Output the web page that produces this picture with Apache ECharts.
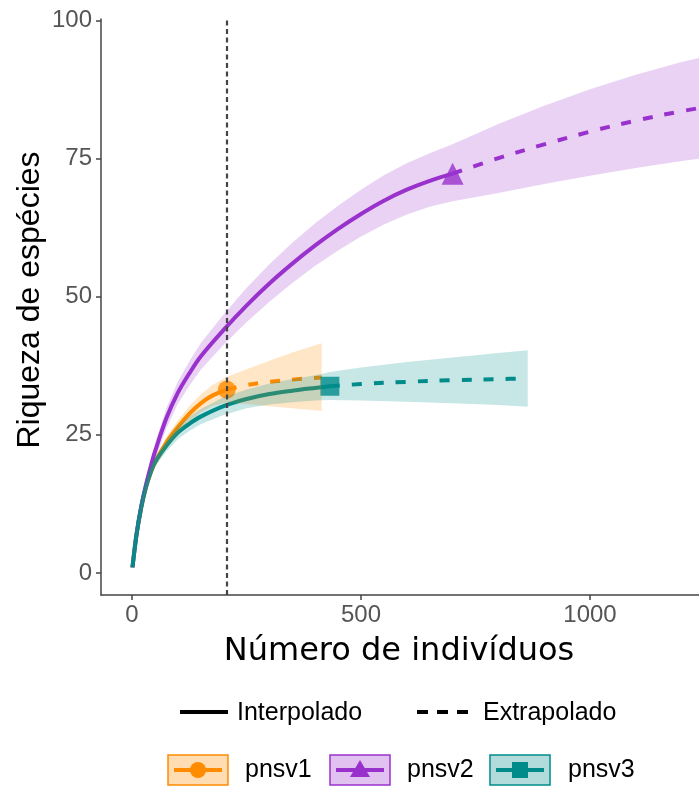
<!DOCTYPE html>
<html>
<head>
<meta charset="utf-8">
<script src="https://cdn.jsdelivr.net/npm/echarts@6/dist/echarts.min.js"></script>
<style>
html,body{margin:0;padding:0;background:#fff;}
#chart{width:699px;height:789px;}
</style>
</head>
<body>
<div id="chart"></div>
<script>
// ---------- data ----------
const seriesNames = ['pnsv1', 'pnsv2', 'pnsv3'];
const colors = ['#FF8C00', '#9932CC', '#008B8B'];
const xTicks = [0, 500, 1000];
const yTicks = [0, 25, 50, 75, 100];
const refSize = 207;

// pnsv1 (reference point index 11)
const n1  = [1, 10, 20, 30, 40, 50, 75, 100, 125, 150, 175, 207, 250, 300, 350, 414];
const s1  = [1, 7.0, 11.8, 15.4, 18.0, 20.0, 23.6, 26.4, 28.8, 30.7, 32.1, 33.2, 34.0, 34.6, 35.0, 35.4];
const lo1 = [1, 6.6, 11.2, 14.7, 17.2, 19.2, 22.6, 25.2, 27.4, 29.1, 30.2, 30.9, 30.6, 30.2, 29.8, 29.3];
const hi1 = [1, 7.4, 12.4, 16.1, 18.8, 20.8, 24.6, 27.6, 30.2, 32.3, 34.0, 35.5, 36.9, 38.4, 39.9, 41.6];
const ref1 = 11;

// pnsv2 (reference point index 20)
const n2  = [1, 10, 20, 30, 40, 50, 75, 100, 125, 150, 200, 250, 300, 350, 400, 450, 500, 550, 600, 650, 700, 800, 900, 1000, 1100, 1200, 1300, 1400];
const s2  = [1, 7.1, 12.0, 15.8, 19.0, 21.9, 28.0, 32.6, 36.1, 39.2, 44.0, 48.4, 52.4, 56.0, 59.3, 62.3, 65.0, 67.4, 69.4, 71.0, 72.3, 75.1, 77.6, 79.9, 81.9, 83.6, 85.0, 86.2];
const lo2 = [1, 6.6, 11.2, 14.7, 17.7, 20.4, 26.2, 30.6, 33.9, 36.8, 41.3, 45.4, 49.1, 52.5, 55.6, 58.4, 60.9, 63.1, 64.9, 66.3, 67.3, 68.8, 70.4, 71.9, 73.3, 74.6, 75.6, 76.4];
const hi2 = [1, 7.6, 12.8, 16.9, 20.3, 23.4, 29.8, 34.6, 38.3, 41.6, 46.8, 51.6, 55.9, 59.8, 63.3, 66.5, 69.4, 72.0, 74.2, 76.0, 77.6, 81.3, 84.6, 87.6, 90.2, 92.5, 94.4, 96.1];
const ref2 = 20;

// pnsv3 (reference point index 15)
const n3  = [1, 10, 20, 30, 40, 50, 75, 100, 125, 150, 200, 250, 300, 350, 400, 432, 500, 600, 700, 800, 864];
const s3  = [1, 7.0, 11.8, 15.4, 18.0, 20.0, 23.0, 25.4, 27.0, 28.3, 30.2, 31.5, 32.4, 33.0, 33.5, 33.8, 34.2, 34.6, 34.9, 35.1, 35.2];
const lo3 = [1, 6.6, 11.2, 14.7, 17.2, 19.2, 22.0, 24.2, 25.7, 26.9, 28.6, 29.8, 30.5, 30.9, 31.2, 31.3, 31.2, 31.0, 30.7, 30.4, 30.1];
const hi3 = [1, 7.4, 12.4, 16.1, 18.8, 20.8, 24.0, 26.6, 28.3, 29.7, 31.8, 33.2, 34.3, 35.1, 35.8, 36.4, 37.2, 38.2, 39.0, 39.8, 40.3];
const ref3 = 15;

const xMin = -67.7, xMax = 1238;
const yMin = -4, yMax = 100.3;

// ---------- build ----------
const groups = [
  {n: n1, s: s1, lo: lo1, hi: hi1, ref: ref1, symbol: 'circle', size: 18},
  {n: n2, s: s2, lo: lo2, hi: hi2, ref: ref2, symbol: 'triangle', size: 22},
  {n: n3, s: s3, lo: lo3, hi: hi3, ref: ref3, symbol: 'rect', size: 19}
];

function bandColor(c, a) {
  const r = parseInt(c.slice(1,3),16), g = parseInt(c.slice(3,5),16), b = parseInt(c.slice(5,7),16);
  return 'rgba(' + r + ',' + g + ',' + b + ',' + a + ')';
}

const series = [];
groups.forEach(function (gp, k) {
  const pts = gp.n.map(function (v, i) { return [v, gp.s[i]]; });
  series.push({
    type: 'line', name: seriesNames[k] + ' interp', z: 2, silent: true,
    data: pts.slice(0, gp.ref + 1), showSymbol: false, smooth: 0.35,
    lineStyle: {color: colors[k], width: 4}
  });
  series.push({
    type: 'line', name: seriesNames[k] + ' extrap', z: 2, silent: true,
    data: pts.slice(gp.ref), showSymbol: false, smooth: 0.35,
    lineStyle: {color: colors[k], width: 4, type: [10, 12]}
  });
  series.push({
    type: 'scatter', name: seriesNames[k] + ' obs', z: 3, silent: true,
    data: [pts[gp.ref]], symbol: gp.symbol, symbolSize: gp.size,
    itemStyle: {color: colors[k]}
  });
});
groups.forEach(function (gp, k) {
  const bandData = gp.n.map(function (v, i) { return [v, gp.lo[i], gp.hi[i]]; });
  series.push({
    type: 'custom',
    name: seriesNames[k] + ' band',
    clip: true,
    z: 4,
    silent: true,
    data: bandData,
    encode: {x: 0, y: [1, 2]},
    renderItem: function (params, api) {
      if (params.dataIndex !== 0) return null;
      const pts = [];
      for (let i = 0; i < gp.n.length; i++) pts.push(api.coord([gp.n[i], gp.hi[i]]));
      for (let i = gp.n.length - 1; i >= 0; i--) pts.push(api.coord([gp.n[i], gp.lo[i]]));
      return {type: 'polygon', shape: {points: pts, smooth: 0}, style: {fill: bandColor(colors[k], 0.22)}};
    }
  });
});
series.push({
  type: 'line', name: 'ref', data: [], z: 6, silent: true,
  markLine: {
    silent: true, symbol: 'none', label: {show: false},
    lineStyle: {color: '#444', width: 2.2, type: [5, 3.5]},
    data: [{xAxis: refSize}]
  }
});

const tickFont = {fontFamily: 'Liberation Sans', fontSize: 24, color: '#555'};

const graphic = [
  {type: 'text', x: 30, y: 300, rotation: Math.PI / 2,
   style: {text: 'Riqueza de espécies', font: '32px "Liberation Sans"', fill: '#000', textAlign: 'center', textVerticalAlign: 'middle'}},
  {type: 'text', x: 399, y: 652,
   style: {text: 'Número de indivíduos', font: '32px "DejaVu Sans"', fill: '#000', textAlign: 'center', textVerticalAlign: 'middle'}},
  // line type legend
  {type: 'line', shape: {x1: 180, y1: 712, x2: 228, y2: 712}, style: {stroke: '#000', lineWidth: 4}},
  {type: 'text', x: 237, y: 713, style: {text: 'Interpolado', font: '25px "Liberation Sans"', fill: '#000', textVerticalAlign: 'middle'}},
  {type: 'line', shape: {x1: 417, y1: 712, x2: 469, y2: 712}, style: {stroke: '#000', lineWidth: 4, lineDash: [11, 9]}},
  {type: 'text', x: 483, y: 713, style: {text: 'Extrapolado', font: '25px "Liberation Sans"', fill: '#000', textVerticalAlign: 'middle'}}
];
const boxX = [168, 330, 490];
const textX = [245, 407, 568];
seriesNames.forEach(function (nm, k) {
  const x0 = boxX[k], y0 = 755, w = 60, h = 30, cy = y0 + h / 2;
  graphic.push({type: 'line', shape: {x1: x0 + 6, y1: cy, x2: x0 + w - 6, y2: cy},
    style: {stroke: colors[k], lineWidth: 4}});
  if (k === 0) graphic.push({type: 'circle', shape: {cx: x0 + w / 2, cy: cy, r: 8}, style: {fill: colors[k]}});
  if (k === 1) graphic.push({type: 'polygon', shape: {points: [[x0 + w / 2, cy - 10], [x0 + w / 2 - 10, cy + 7], [x0 + w / 2 + 10, cy + 7]]}, style: {fill: colors[k]}});
  if (k === 2) graphic.push({type: 'rect', shape: {x: x0 + w / 2 - 8, y: cy - 8, width: 16, height: 16}, style: {fill: colors[k]}});
  graphic.push({type: 'rect', shape: {x: x0, y: y0, width: w, height: h},
    style: {fill: bandColor(colors[k], 0.3), stroke: colors[k], lineWidth: 1.5}});
  graphic.push({type: 'text', x: textX[k], y: cy, style: {text: nm, font: '25px "Liberation Sans"', fill: '#000', textVerticalAlign: 'middle'}});
});

const chart = echarts.init(document.getElementById('chart'), null, {renderer: 'canvas'});
chart.setOption({
  animation: false,
  backgroundColor: '#fff',
  grid: {left: 101, right: 0, top: 19, bottom: 194, containLabel: false},
  xAxis: {
    type: 'value', min: xMin, max: xMax,
    axisLine: {show: true, onZero: false, lineStyle: {color: '#444', width: 1.5}},
    axisTick: {show: true, length: 5, lineStyle: {color: '#444', width: 1.5}, customValues: xTicks},
    axisLabel: Object.assign({margin: 8, customValues: xTicks, formatter: function (v) { return String(v); }}, tickFont),
    splitLine: {show: false}
  },
  yAxis: {
    type: 'value', min: yMin, max: yMax,
    axisLine: {show: true, onZero: false, lineStyle: {color: '#444', width: 1.5}},
    axisTick: {show: true, length: 5, lineStyle: {color: '#444', width: 1.5}, customValues: yTicks},
    axisLabel: Object.assign({margin: 9, customValues: yTicks, formatter: function (v) { return String(v); }}, tickFont),
    splitLine: {show: false}
  },
  graphic: graphic,
  series: series
});
</script>
</body>
</html>
